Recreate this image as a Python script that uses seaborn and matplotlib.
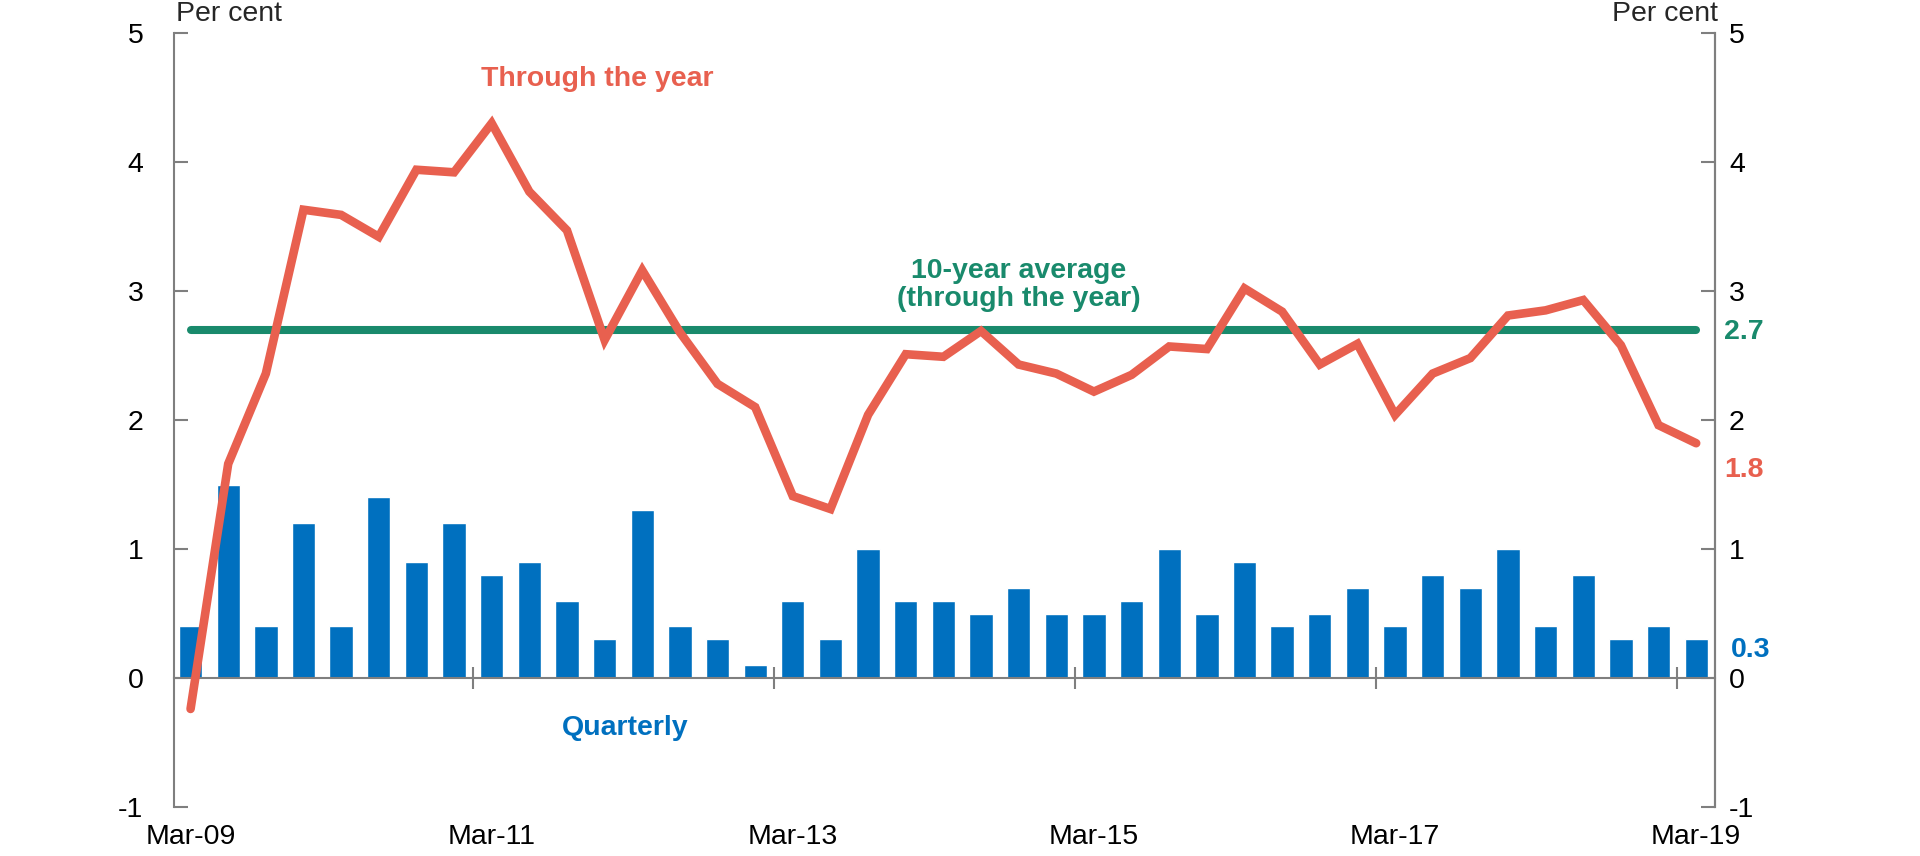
import numpy as np
import pandas as pd
import matplotlib
matplotlib.use('Agg')
import matplotlib.pyplot as plt
import matplotlib.transforms as mtransforms
import seaborn as sns

# quarters Mar-09 .. Mar-19
quarters = [f"{m}-{y:02d}" for y in range(9, 20) for m in ['Mar', 'Jun', 'Sep', 'Dec']][:41]

quarterly = [0.4, 1.5, 0.4, 1.2, 0.4, 1.4, 0.9, 1.2, 0.8, 0.9,
             0.6, 0.3, 1.3, 0.4, 0.3, 0.1, 0.6, 0.3, 1.0, 0.6,
             0.6, 0.5, 0.7, 0.5, 0.5, 0.6, 1.0, 0.5, 0.9, 0.4,
             0.5, 0.7, 0.4, 0.8, 0.7, 1.0, 0.4, 0.8, 0.3, 0.4,
             0.3]

through_year = [-0.24, 1.66, 2.36, 3.63, 3.59, 3.42, 3.94, 3.92, 4.30, 3.77,
                3.47, 2.62, 3.16, 2.68, 2.28, 2.10, 1.41, 1.31, 2.04, 2.51,
                2.49, 2.69, 2.43, 2.36, 2.22, 2.35, 2.57, 2.55, 3.02, 2.84,
                2.43, 2.59, 2.04, 2.36, 2.48, 2.81, 2.85, 2.93, 2.58, 1.96,
                1.82]

avg_10yr = 2.7

xtick_labels = ['Mar-09', 'Mar-11', 'Mar-13', 'Mar-15', 'Mar-17', 'Mar-19']
yticks = [-1, 0, 1, 2, 3, 4, 5]

BLUE = '#0070BF'
RED = '#E8604F'
GREEN = '#198A6C'
GREY = '#7F7F7F'
FS = 20.5

df = pd.DataFrame({'quarter': quarters, 'quarterly': quarterly, 'tty': through_year})
df['pos'] = np.arange(len(df))
df['avg'] = avg_10yr

sns.set_theme(style='white')
plt.rcParams['font.family'] = ['Liberation Sans', 'DejaVu Sans']

fig = plt.figure(figsize=(19.2, 8.56), dpi=100)
ax = fig.add_axes([174 / 1920, 1 - 807 / 856, (1715 - 174) / 1920, (807 - 33) / 856])

sns.barplot(data=df, x='pos', y='quarterly', native_scale=True, color=BLUE,
            saturation=1, width=0.62, ax=ax, zorder=2)
sns.lineplot(data=df, x='pos', y='avg', color=GREEN, lw=5.8, ax=ax, zorder=3,
             solid_capstyle='round')
sns.lineplot(data=df, x='pos', y='tty', color=RED, lw=6.2, ax=ax, zorder=4,
             solid_capstyle='round', solid_joinstyle='miter')

ax.set_xlim(-0.44, 40.5)
ax.set_ylim(-1, 5)
ax.set_xlabel('')
ax.set_ylabel('')

# spines
for s in ['left', 'right', 'bottom']:
    ax.spines[s].set_color(GREY)
    ax.spines[s].set_linewidth(1.5)
ax.spines['top'].set_visible(False)
ax.spines['bottom'].set_position(('data', 0))

# x ticks at quarter boundaries, labels underneath the plot
ax.set_xticks(df['pos'].values[8::8] - 0.5)
ax.set_xticklabels([])
ax.tick_params(axis='x', direction='inout', length=16, width=1.5, color=GREY, bottom=True)
trans = mtransforms.blended_transform_factory(ax.transData, ax.transAxes)
for p, lab in zip(df['pos'].values[::8], xtick_labels):
    ax.text(p, -0.039, lab, transform=trans, ha='center', va='center', fontsize=FS, color='black')

ax.set_yticks(yticks)
ax.set_yticklabels([str(v) for v in yticks])
ax.tick_params(axis='y', direction='in', length=10, width=1.5, color=GREY, pad=22,
               labelsize=FS, labelcolor='black', left=True, right=False)

ax2 = ax.twinx()
ax2.set_ylim(-1, 5)
ax2.set_yticks(yticks)
ax2.set_yticklabels([str(v) for v in yticks])
ax2.tick_params(axis='y', direction='in', length=10, width=1.5, color=GREY, pad=10,
                labelsize=FS, labelcolor='black', right=True, left=False)
for s in ['left', 'top', 'bottom']:
    ax2.spines[s].set_visible(False)
ax2.spines['right'].set_color(GREY)
ax2.spines['right'].set_linewidth(1.5)
ax2.grid(False)
ax.grid(False)

# units
fig.text(176 / 1920, 1 - 14 / 856, 'Per cent', ha='left', va='center', fontsize=FS)
fig.text(1718 / 1920, 1 - 14 / 856, 'Per cent', ha='right', va='center', fontsize=FS)

# series annotations
ax.text(10.8, 4.64, 'Through the year', color=RED, fontsize=FS, fontweight='bold',
        ha='center', va='center')
ax.text(22.0, 3.05, '10-year average\n(through the year)', color=GREEN, fontsize=FS,
        fontweight='bold', ha='center', va='center', linespacing=1.1)
ax.text(11.55, -0.39, 'Quarterly', color=BLUE, fontsize=FS, fontweight='bold',
        ha='center', va='center')

# end-point labels on right side
rtrans = mtransforms.blended_transform_factory(ax.transAxes, ax.transData)
ax.text(1.006, 2.68, f'{avg_10yr:.1f}', transform=rtrans, color=GREEN, fontsize=FS,
        fontweight='bold', ha='left', va='center', clip_on=False)
ax.text(1.006, 1.61, f'{through_year[-1]:.1f}', transform=rtrans, color=RED, fontsize=FS,
        fontweight='bold', ha='left', va='center', clip_on=False)
ax.text(1.010, 0.22, f'{quarterly[-1]:.1f}', transform=rtrans, color=BLUE, fontsize=FS,
        fontweight='bold', ha='left', va='center', clip_on=False)

fig.savefig('out.png', dpi=100, facecolor='white')
